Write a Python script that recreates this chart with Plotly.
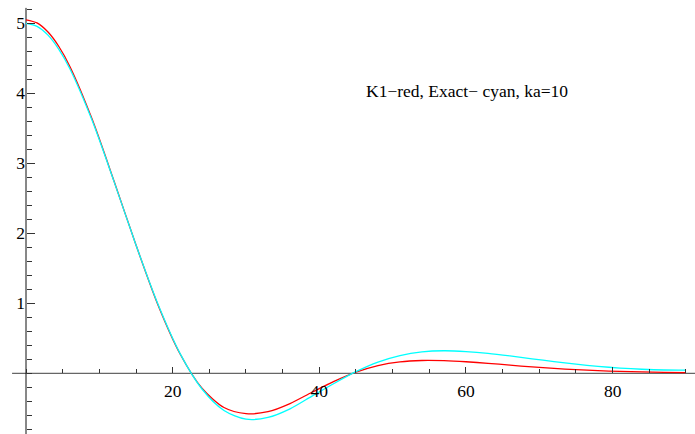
import plotly.graph_objects as go

theta = [0, 1.5, 3, 4.5, 6, 9, 12, 15, 18, 21, 24, 27, 30, 33, 36, 39, 42, 45,
         48, 51, 54, 57, 60, 63, 66, 69, 72, 75, 78, 81, 84, 87, 90]
exact_cyan = [5.0, 4.957, 4.831, 4.625, 4.348, 3.617, 2.742, 1.832, 0.986, 0.285,
              -0.224, -0.531, -0.655, -0.631, -0.508, -0.326, -0.145, 0.023, 0.159,
              0.252, 0.305, 0.322, 0.311, 0.286, 0.249, 0.207, 0.167, 0.130, 0.099,
              0.075, 0.058, 0.047, 0.044]
k1_red = [5.05, 5.005, 4.875, 4.665, 4.38, 3.635, 2.748, 1.832, 0.976, 0.279,
          -0.213, -0.489, -0.576, -0.549, -0.432, -0.271, -0.116, 0.017, 0.111,
          0.164, 0.183, 0.180, 0.165, 0.143, 0.117, 0.091, 0.070, 0.052, 0.038,
          0.027, 0.020, 0.014, 0.009]

x_major = [20, 40, 60, 80]
x_labels = ["20", "40", "60", "80"]
y_major = [1, 2, 3, 4, 5]
y_labels = ["1", "2", "3", "4", "5"]
note = "K1\u2212red, Exact\u2212 cyan, ka=10"

W, H = 695, 434
x0px, xscale = 26.0, 7.333
y0px, yscale = 373.3, 70.0
xr = [-x0px / xscale, (W - x0px) / xscale]
yr = [(y0px - H) / yscale, y0px / yscale]

fig = go.Figure()
fig.add_trace(go.Scatter(x=theta, y=k1_red, mode="lines",
                         line=dict(color="#ff0000", width=1.3, shape="spline", smoothing=0.8),
                         showlegend=False, hoverinfo="skip"))
fig.add_trace(go.Scatter(x=theta, y=exact_cyan, mode="lines",
                         line=dict(color="#00ffff", width=1.3, shape="spline", smoothing=0.8),
                         showlegend=False, hoverinfo="skip"))

font = dict(family="Liberation Serif, Times New Roman, serif", size=17.5, color="#000")

fig.update_layout(
    width=W, height=H,
    margin=dict(l=0, r=0, t=0, b=0, pad=0),
    paper_bgcolor="white", plot_bgcolor="white",
    font=font,
    xaxis=dict(range=xr, showgrid=False, zeroline=False, showline=False,
               anchor="free", position=1 - y0px / H,
               tickmode="array", tickvals=x_major, ticktext=x_labels,
               ticks="inside", ticklen=6.5, tickwidth=1, tickcolor="#333",
               ticklabelstandoff=5,
               minor=dict(dtick=5, tick0=0, ticks="inside", ticklen=4,
                          tickwidth=1, tickcolor="#333", showgrid=False),
               tickfont=font, fixedrange=True),
    yaxis=dict(range=yr, showgrid=False, zeroline=False, showline=False,
               anchor="free", position=x0px / W,
               tickmode="array", tickvals=y_major, ticktext=y_labels,
               ticks="inside", ticklen=8, tickwidth=1, tickcolor="#333",
               ticklabelstandoff=1,
               minor=dict(dtick=0.2, tick0=0, ticks="inside", ticklen=5,
                          tickwidth=1, tickcolor="#333", showgrid=False),
               tickfont=font, fixedrange=True),
    shapes=[
        dict(type="line", xref="x", yref="y", x0=-1.9, x1=xr[1], y0=0, y1=0,
             line=dict(color="#666", width=1.3), layer="below"),
        dict(type="line", xref="x", yref="y", x0=0, x1=0, y0=yr[0], y1=5.22,
             line=dict(color="#111", width=1), layer="below"),
    ],
    annotations=[
        dict(x=(364 - x0px) / xscale, y=(y0px - 91) / yscale, xref="x", yref="y",
             text=note, showarrow=False, xanchor="left", yanchor="middle",
             font=font),
    ],
)

fig.write_html("out.html")
